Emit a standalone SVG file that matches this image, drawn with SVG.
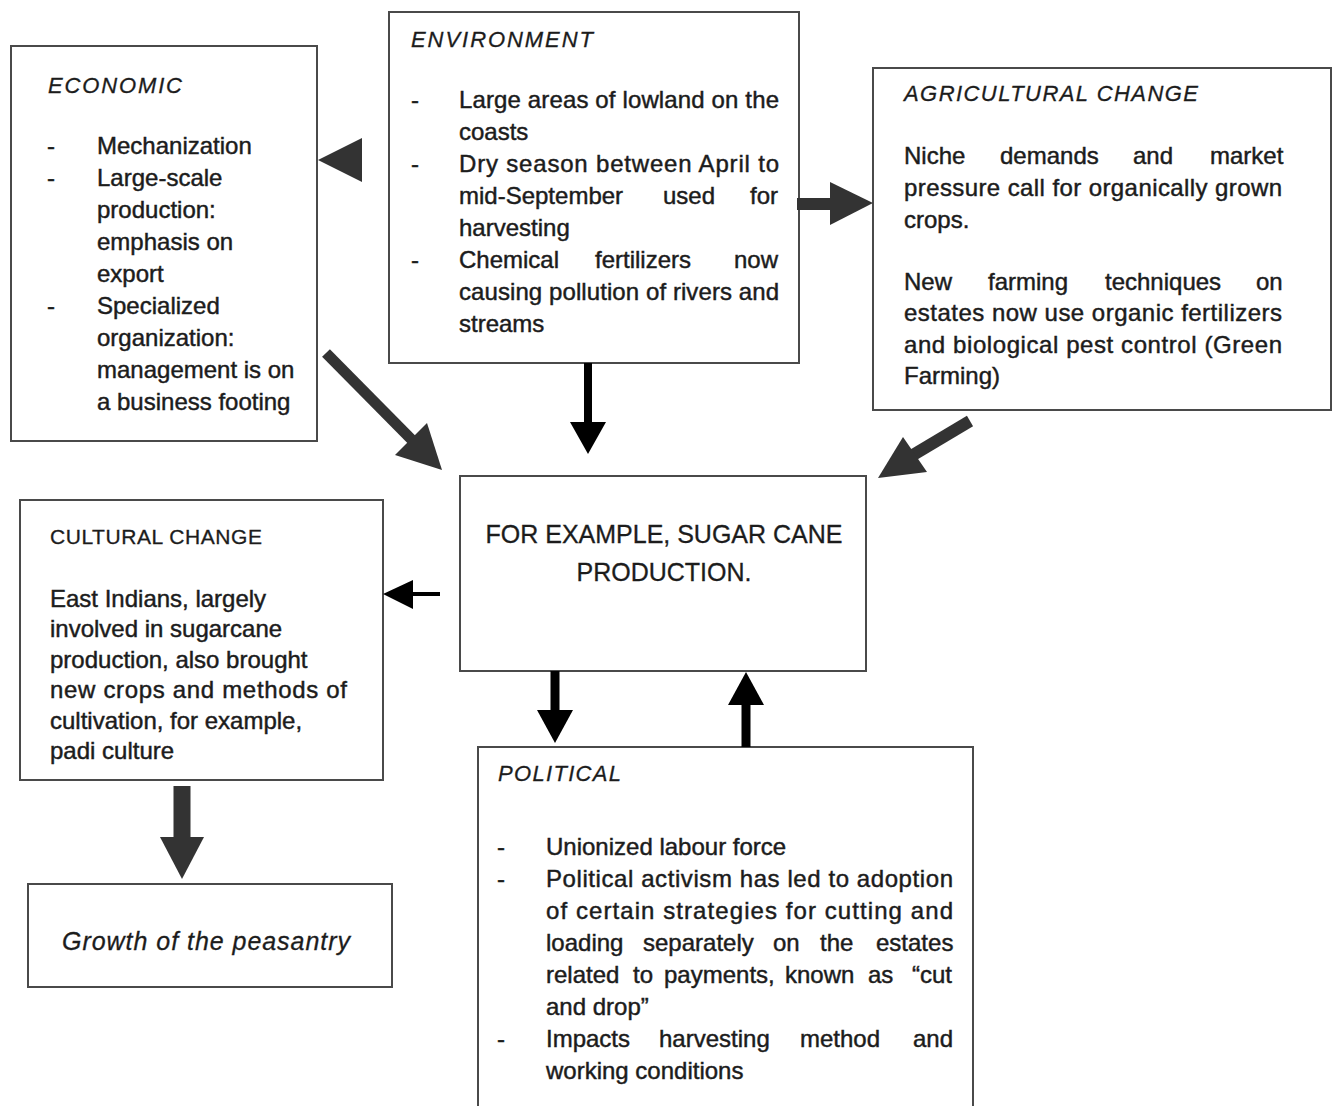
<svg xmlns="http://www.w3.org/2000/svg" width="1336" height="1106" viewBox="0 0 1336 1106">
<defs>
<style>
.box{fill:#fff;stroke:#4a4a4a;stroke-width:2}
.t{font-family:"Liberation Sans",Arial,sans-serif;font-size:24px;fill:#1c1c1c;stroke:#1c1c1c;stroke-width:0.45}
.h{font-family:"Liberation Sans",Arial,sans-serif;font-size:22px;font-style:italic;fill:#1c1c1c;stroke:#1c1c1c;stroke-width:0.3}
.hc{font-family:"Liberation Sans",Arial,sans-serif;font-size:21px;fill:#1c1c1c;stroke:#1c1c1c;stroke-width:0.3}
.c{font-family:"Liberation Sans",Arial,sans-serif;font-size:25px;fill:#1c1c1c;text-anchor:middle;stroke:#1c1c1c;stroke-width:0.3}
.g{font-family:"Liberation Sans",Arial,sans-serif;font-size:25px;font-style:italic;fill:#1c1c1c;stroke:#1c1c1c;stroke-width:0.3}
.dk{fill:#333}
.bk{fill:#000}
.sdk{stroke:#333;fill:none}
.sbk{stroke:#000;fill:none}
</style>
</defs>
<rect width="1336" height="1106" fill="#fff"/>

<g id="economic">
<rect class="box" x="11" y="46" width="306" height="395"/>
<text class="h" x="48" y="93" textLength="134" lengthAdjust="spacing">ECONOMIC</text>
<text class="t" x="47" y="154">-</text>
<text class="t" x="97" y="154">Mechanization</text>
<text class="t" x="47" y="186">-</text>
<text class="t" x="97" y="186">Large-scale</text>
<text class="t" x="97" y="218">production:</text>
<text class="t" x="97" y="250">emphasis on</text>
<text class="t" x="97" y="282">export</text>
<text class="t" x="47" y="314">-</text>
<text class="t" x="97" y="314">Specialized</text>
<text class="t" x="97" y="346">organization:</text>
<text class="t" x="97" y="378">management is on</text>
<text class="t" x="97" y="410">a business footing</text>
</g>

<g id="environment">
<rect class="box" x="389" y="12" width="410" height="351"/>
<text class="h" x="411" y="47" textLength="182" lengthAdjust="spacing">ENVIRONMENT</text>
<text class="t" x="411" y="108">-</text>
<text class="t" x="459" y="108" textLength="320" lengthAdjust="spacing">Large areas of lowland on the</text>
<text class="t" x="459" y="140">coasts</text>
<text class="t" x="411" y="172">-</text>
<text class="t" x="459" y="172" textLength="320" lengthAdjust="spacing">Dry season between April to</text>
<text class="t" y="204"><tspan x="459">mid-September</tspan><tspan x="663">used</tspan><tspan x="750">for</tspan></text>
<text class="t" x="459" y="236">harvesting</text>
<text class="t" x="411" y="268">-</text>
<text class="t" y="268"><tspan x="459">Chemical</tspan><tspan x="595">fertilizers</tspan><tspan x="734">now</tspan></text>
<text class="t" x="459" y="300" textLength="320" lengthAdjust="spacing">causing pollution of rivers and</text>
<text class="t" x="459" y="332">streams</text>
</g>

<g id="agricultural">
<rect class="box" x="873" y="68" width="458" height="342"/>
<text class="h" x="904" y="101" textLength="294" lengthAdjust="spacing">AGRICULTURAL CHANGE</text>
<text class="t" y="164"><tspan x="904">Niche</tspan><tspan x="1000">demands</tspan><tspan x="1133">and</tspan><tspan x="1210">market</tspan></text>
<text class="t" x="904" y="196" textLength="378" lengthAdjust="spacing">pressure call for organically grown</text>
<text class="t" x="904" y="228">crops.</text>
<text class="t" y="290"><tspan x="904">New</tspan><tspan x="988">farming</tspan><tspan x="1105">techniques</tspan><tspan x="1256">on</tspan></text>
<text class="t" x="904" y="321" textLength="378" lengthAdjust="spacing">estates now use organic fertilizers</text>
<text class="t" x="904" y="353" textLength="378" lengthAdjust="spacing">and biological pest control (Green</text>
<text class="t" x="904" y="384">Farming)</text>
</g>

<g id="center">
<rect class="box" x="460" y="476" width="406" height="195"/>
<text class="c" x="664" y="543">FOR EXAMPLE, SUGAR CANE</text>
<text class="c" x="664" y="581">PRODUCTION.</text>
</g>

<g id="cultural">
<rect class="box" x="20" y="500" width="363" height="280"/>
<text class="hc" x="50" y="544" textLength="212" lengthAdjust="spacing">CULTURAL CHANGE</text>
<text class="t" x="50" y="607">East Indians, largely</text>
<text class="t" x="50" y="637">involved in sugarcane</text>
<text class="t" x="50" y="668">production, also brought</text>
<text class="t" x="50" y="698" textLength="297" lengthAdjust="spacing">new crops and methods of</text>
<text class="t" x="50" y="729">cultivation, for example,</text>
<text class="t" x="50" y="759">padi culture</text>
</g>

<g id="growth">
<rect class="box" x="28" y="884" width="364" height="103"/>
<text class="g" x="62" y="950" textLength="288" lengthAdjust="spacing">Growth of the peasantry</text>
</g>

<g id="political">
<rect class="box" x="478" y="747" width="495" height="370"/>
<text class="h" x="498" y="781" textLength="123" lengthAdjust="spacing">POLITICAL</text>
<text class="t" x="497" y="855">-</text>
<text class="t" x="546" y="855">Unionized labour force</text>
<text class="t" x="497" y="887">-</text>
<text class="t" x="546" y="887" textLength="407" lengthAdjust="spacing">Political activism has led to adoption</text>
<text class="t" x="546" y="919" textLength="407" lengthAdjust="spacing">of certain strategies for cutting and</text>
<text class="t" y="951"><tspan x="546">loading</tspan><tspan x="643">separately</tspan><tspan x="773">on</tspan><tspan x="820">the</tspan><tspan x="876">estates</tspan></text>
<text class="t" y="983"><tspan x="546">related</tspan><tspan x="633">to</tspan><tspan x="664">payments,</tspan><tspan x="785">known</tspan><tspan x="868">as</tspan><tspan x="912">“cut</tspan></text>
<text class="t" x="546" y="1015">and drop”</text>
<text class="t" x="497" y="1047">-</text>
<text class="t" y="1047"><tspan x="546">Impacts</tspan><tspan x="659">harvesting</tspan><tspan x="800">method</tspan><tspan x="913">and</tspan></text>
<text class="t" x="546" y="1079">working conditions</text>
</g>

<g id="connectors">
<!-- environment -> economic -->
<polygon class="dk" points="318,160 362,138 362,182"/>
<!-- environment -> agricultural -->
<line class="sdk" x1="797" y1="204" x2="833" y2="204" stroke-width="12"/>
<polygon class="dk" points="830,182 830,225 873,203"/>
<!-- environment -> center -->
<line class="sbk" x1="588" y1="363" x2="588" y2="424" stroke-width="8"/>
<polygon class="bk" points="570,422 606,422 588,454"/>
<!-- economic -> center -->
<line class="sdk" x1="326" y1="353" x2="413" y2="441" stroke-width="11"/>
<polygon class="dk" points="395,455 427,423 442,470"/>
<!-- agricultural -> center -->
<line class="sdk" x1="970" y1="421" x2="913" y2="455" stroke-width="12"/>
<polygon class="dk" points="903,437 927,472 878,478"/>
<!-- center -> cultural -->
<line class="sbk" x1="440" y1="594" x2="410" y2="594" stroke-width="4"/>
<polygon class="bk" points="413,580 413,609 383,594"/>
<!-- center -> political -->
<line class="sbk" x1="555" y1="671" x2="555" y2="712" stroke-width="9"/>
<polygon class="bk" points="537,710 573,710 555,743"/>
<!-- political -> center -->
<line class="sbk" x1="746" y1="747" x2="746" y2="703" stroke-width="9"/>
<polygon class="bk" points="728,705 764,705 746,672"/>
<!-- cultural -> growth -->
<line class="sdk" x1="182" y1="786" x2="182" y2="840" stroke-width="17"/>
<polygon class="dk" points="160,837 204,837 182,879"/>
</g>
</svg>
